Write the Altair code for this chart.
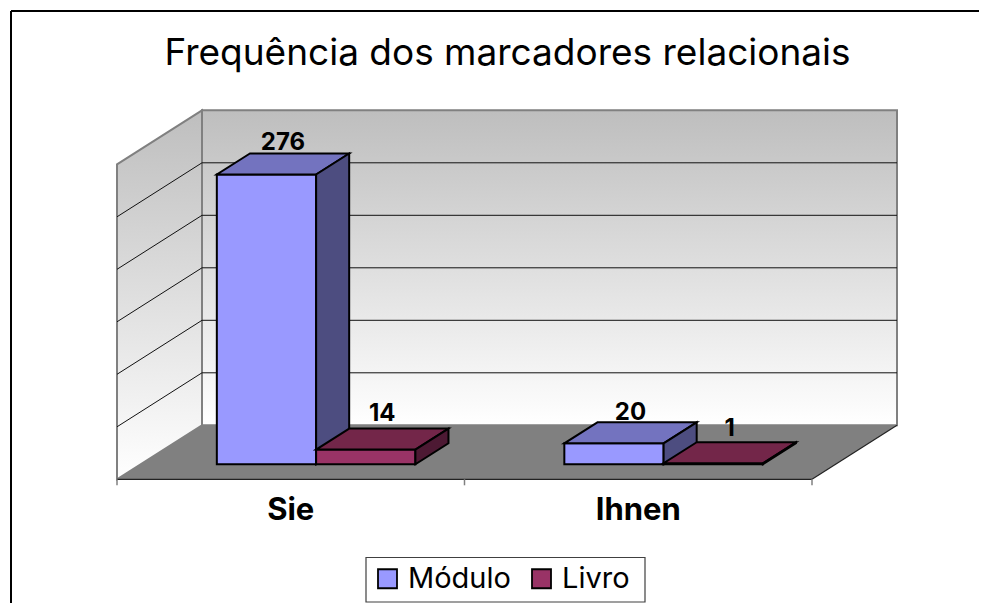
import altair as alt
import pandas as pd

# ---- values
categories = ["Sie", "Ihnen"]
series = ["Módulo", "Livro"]
modulo = [276, 20]
livro = [14, 1]
gridlines = [0, 50, 100, 150, 200, 250, 300]
title_text = "Frequência dos marcadores relacionais"

front_colors = ["#9999FF", "#993366"]
top_colors = ["#7373BF", "#732649"]
side_colors = ["#4D4D80", "#4D1933"]
label_nudge = [[3, 8], [2, 6]]   # px above the rear top edge, per category / series

# ---- oblique projection of the 3-D column chart onto page pixels
X0, Y0 = 117.0, 479.3     # front-left floor corner
CAT_W = 347.5             # one category along x
DEPTH_X, DEPTH_Y = 85.0, -54.0
UNIT = 1.05               # px per value unit
GAP = 0.75 / 3.5 + 0.005  # Excel gap width 150 %
BAR = 1 / 3.5
D0, D1 = 0.278, 0.667     # bar depth range
VMAX = max(gridlines)
FONT = "Inter"


def px(c, d=0.0):
    return X0 + CAT_W * c + DEPTH_X * d


def py(v, d=0.0):
    return Y0 - UNIT * v + DEPTH_Y * d


W, H = 971, 595
sx = alt.Scale(domain=[8, 8 + W], range=[0, W], nice=False, zero=False)
sy = alt.Scale(domain=[8 + H, 8], nice=False, zero=False)
X = alt.X("x:Q", scale=sx, axis=None)
X2 = alt.X2("x2:Q")
Y = alt.Y("y:Q", scale=sy, axis=None)
Y2 = alt.Y2("y2:Q")
n_cat = len(categories)


def side_face(rows, fill, **kw):
    return (alt.Chart(pd.DataFrame(rows)).mark_area(fill=fill, **kw)
            .encode(x=X, y=Y, y2=Y2))


def cap_face(rows, fill, **kw):
    return (alt.Chart(pd.DataFrame(rows)).mark_area(fill=fill, orient="horizontal", **kw)
            .encode(y=Y, x=X, x2=X2))


layers = []

# frame
frame = pd.DataFrame({"x": [11, 11], "x2": [8 + W, 11], "y": [11, 11], "y2": [11, 8 + H]})
layers.append(alt.Chart(frame).mark_rule(color="black", strokeWidth=2).encode(x=X, x2=X2, y=Y, y2=Y2))

# legend box
legend_box = pd.DataFrame({"x": [366], "x2": [645], "y": [557.5], "y2": [602]})
layers.append(alt.Chart(legend_box).mark_rect(fill="white", stroke="#404040", strokeWidth=1.2)
              .encode(x=X, x2=X2, y=Y, y2=Y2))

# back wall, left wall
wall_grad = alt.Gradient(gradient="linear", x1=0, y1=0, x2=0, y2=1,
                         stops=[alt.GradientStop(color="#BEBEBE", offset=0),
                                alt.GradientStop(color="#FFFFFF", offset=1)])
back = pd.DataFrame({"x": [px(0, 1)], "x2": [px(n_cat, 1)], "y": [py(VMAX, 1)], "y2": [py(0, 1)]})
layers.append(alt.Chart(back).mark_rect(color=wall_grad, stroke="#808080", strokeWidth=2)
              .encode(x=X, x2=X2, y=Y, y2=Y2))
layers.append(side_face(
    [{"x": px(0, 0), "y": py(VMAX, 0), "y2": py(0, 0)},
     {"x": px(0, 1), "y": py(VMAX, 1), "y2": py(0, 1)}],
    wall_grad, stroke="#808080", strokeWidth=2))

# floor
layers.append(cap_face(
    [{"y": py(0, 0), "x": px(0, 0), "x2": px(n_cat, 0)},
     {"y": py(0, 1), "x": px(0, 1), "x2": px(n_cat, 1)}],
    "#808080"))

# gridlines
grid_back = pd.DataFrame([{"x": px(0, 1), "x2": px(n_cat, 1), "y": py(v, 1), "y2": py(v, 1)}
                          for v in gridlines[1:-1]])
grid_left = pd.DataFrame([{"x": px(0, 0), "x2": px(0, 1), "y": py(v, 0), "y2": py(v, 1)}
                          for v in gridlines[1:-1]])
for g in (grid_back, grid_left):
    layers.append(alt.Chart(g).mark_rule(color="#111111", strokeWidth=1).encode(x=X, x2=X2, y=Y, y2=Y2))

# floor front and right edges, ticks
edges = pd.DataFrame([
    {"x": px(0, 0), "x2": px(n_cat, 0), "y": py(0, 0), "y2": py(0, 0)},
    {"x": px(n_cat, 0), "x2": px(n_cat, 1), "y": py(0, 0), "y2": py(0, 1)},
])
layers.append(alt.Chart(edges).mark_rule(color="#222222", strokeWidth=1.2).encode(x=X, x2=X2, y=Y, y2=Y2))
ticks = pd.DataFrame([{"x": px(c, 0), "x2": px(c, 0), "y": py(0, 0), "y2": py(0, 0) + 6}
                      for c in range(n_cat + 1)])
layers.append(alt.Chart(ticks).mark_rule(color="#808080", strokeWidth=1.5).encode(x=X, x2=X2, y=Y, y2=Y2))

# bars
color = alt.Color("series:N", sort=series,
                  scale=alt.Scale(domain=series, range=front_colors),
                  legend=alt.Legend(title=None, orient="none", legendX=365, legendY=556,
                                    direction="horizontal", columns=2, symbolType="square",
                                    symbolSize=361, symbolStrokeColor="black", symbolStrokeWidth=1.8,
                                    labelFont=FONT, labelFontSize=29, labelColor="black",
                                    padding=0, columnPadding=16, labelOffset=6, labelLimit=200))
line = dict(stroke="black", strokeWidth=2)
labels = []
for ic in range(n_cat):
    for iS, values in enumerate((modulo, livro)):
        v = values[ic]
        c0 = ic + GAP + iS * BAR
        c1 = c0 + BAR
        front = pd.DataFrame([{"series": series[iS], "x": px(c0, D0), "x2": px(c1, D0),
                               "y": py(v, D0), "y2": py(0, D0)}])
        layers.append(alt.Chart(front).mark_rect(**line).encode(x=X, x2=X2, y=Y, y2=Y2, color=color))
        layers.append(cap_face(
            [{"y": py(v, D0), "x": px(c0, D0), "x2": px(c1, D0)},
             {"y": py(v, D1), "x": px(c0, D1), "x2": px(c1, D1)}],
            top_colors[iS], **line))
        layers.append(side_face(
            [{"x": px(c1, D0), "y": py(v, D0), "y2": py(0, D0)},
             {"x": px(c1, D1), "y": py(v, D1), "y2": py(0, D1)}],
            side_colors[iS], **line))
        labels.append({"x": (px(c0, D0) + px(c1, D1)) / 2, "y": py(v, D1) - label_nudge[ic][iS],
                       "label": str(v)})

layers.append(alt.Chart(pd.DataFrame(labels))
              .mark_text(font=FONT, fontWeight="bold", fontSize=24, color="black",
                         baseline="alphabetic", align="center")
              .encode(x=X, y=Y, text="label:N"))

cat_df = pd.DataFrame([{"x": px(i + 0.5, 0), "y": py(0, 0) + 41, "label": c}
                       for i, c in enumerate(categories)])
layers.append(alt.Chart(cat_df)
              .mark_text(font=FONT, fontWeight="bold", fontSize=31, color="black",
                         baseline="alphabetic", align="center")
              .encode(x=X, y=Y, text="label:N"))

chart = (alt.layer(*layers)
         .properties(width=W, height=H, background="white", padding=0,
                     autosize=alt.AutoSizeParams(type="none"),
                     title=alt.TitleParams(title_text, font=FONT, fontSize=37, fontWeight="normal",
                                           color="black", anchor="middle", frame="group",
                                           baseline="alphabetic", offset=0, dx=14, dy=94))
         .configure_view(stroke=None))

chart.save("out.html", embed_options={"renderer": "svg", "actions": False})
